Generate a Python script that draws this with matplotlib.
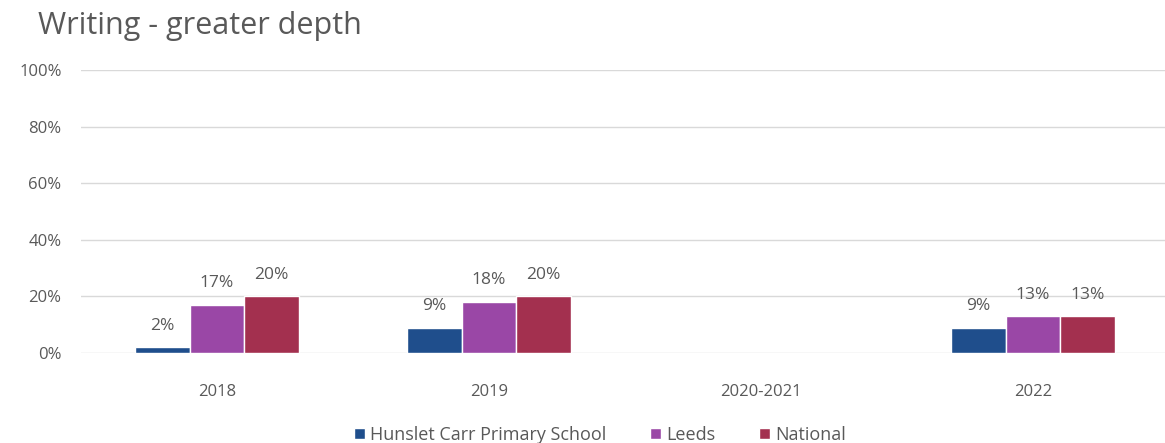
import matplotlib.pyplot as plt
import numpy as np

years = ["2018", "2019", "2020-2021", "2022"]
school = [2, 9, np.nan, 9]
leeds = [17, 18, np.nan, 13]
national = [20, 20, np.nan, 13]
series_names = ["Hunslet Carr Primary School", "Leeds", "National"]
colors = ["#1f4e8c", "#9a47a6", "#a3304f"]

plt.rcParams['font.family'] = ['Open Sans', 'DejaVu Sans']

fig = plt.figure(figsize=(11.65, 4.43), dpi=100)
ax = fig.add_axes([81 / 1165, 1 - 353 / 443, 1088 / 1165, 283 / 443])

x = np.arange(len(years))
w = 0.2
for i, (vals, name, c) in enumerate(zip([school, leeds, national], series_names, colors)):
    pos = x + (i - 1) * w
    ax.bar(pos, vals, width=w, color=c, edgecolor="white", linewidth=1, label=name, zorder=3)
    for p, v in zip(pos, vals):
        if not np.isnan(v):
            ax.text(p, v + 4.8, "{:.0f}%".format(v), ha="center", va="bottom",
                    fontsize=12.5, color="#595959")

ax.set_xlim(-0.5, 3.5)
ax.set_ylim(0, 100)
ax.set_yticks(range(0, 101, 20))
ax.set_yticklabels(["{}%".format(t) for t in range(0, 101, 20)])
ax.set_xticks(x)
ax.set_xticklabels(years)
ax.tick_params(length=0, labelsize=12, labelcolor="#595959")
ax.tick_params(axis="x", pad=22)
ax.tick_params(axis="y", pad=14)
ax.yaxis.grid(True, color="#d9d9d9", linewidth=1)
for s in ax.spines.values():
    s.set_visible(False)
ax.set_axisbelow(True)

fig.text(38 / 1165, 1 - 26 / 443, "Writing - greater depth", fontsize=22, color="#595959", va="center")

fig.legend(loc="center", bbox_to_anchor=(600 / 1165, 1 - 435 / 443), ncol=3, frameon=False,
           fontsize=13, handlelength=0.6, handleheight=0.6, handletextpad=0.3, columnspacing=2.4,
           labelcolor="#595959")

fig.savefig("out.png", dpi=100)
